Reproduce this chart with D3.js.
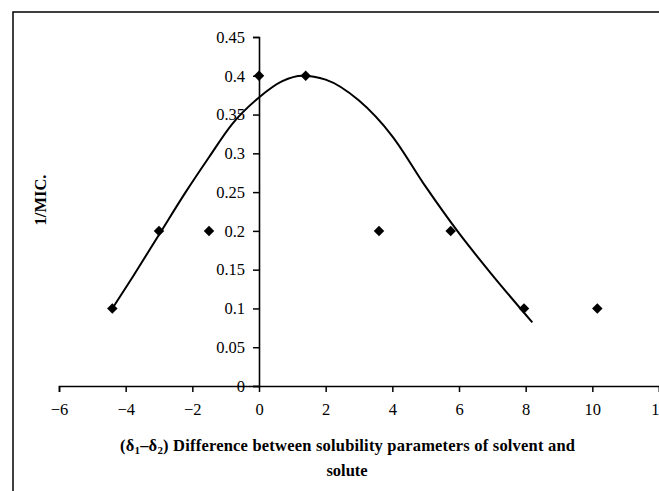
<!DOCTYPE html>
<html>
<head>
<meta charset="utf-8">
<script src="https://cdn.jsdelivr.net/npm/d3@7"></script>
<style>
  body { margin: 0; background: #fff; }
  svg { display: block; }
  text { font-family: "Liberation Serif", "Times New Roman", serif; fill: #000; }
</style>
</head>
<body>
<div id="chart"></div>
<script>
// measured points (difference of solubility parameters vs 1/MIC)
var pointX = [-4.4, -3.0, -1.5, 0, 1.4, 3.6, 5.75, 7.95, 10.15];
var pointY = [0.1, 0.2, 0.2, 0.4, 0.4, 0.2, 0.2, 0.1, 0.1];

// fitted trend curve
var curveX = [-4.4, -3.8, -3.0, -2.2, -1.5, -0.8, 0, 0.7, 1.3, 2.0, 3.0, 4.0, 5.0, 6.0, 7.0, 8.2];
var curveY = [0.1, 0.14, 0.195, 0.25, 0.295, 0.338, 0.372, 0.393, 0.4, 0.395, 0.368, 0.322, 0.257, 0.197, 0.143, 0.082];

var xTicks = [-6, -4, -2, 0, 2, 4, 6, 8, 10, 12];
var yTicks = [0, 0.05, 0.1, 0.15, 0.2, 0.25, 0.3, 0.35, 0.4, 0.45];

var width = 659, height = 491;

var svg = d3.select("#chart")
  .append("svg")
    .attr("width", width)
    .attr("height", height);

// outer frame
svg.append("rect")
  .attr("x", 13)
  .attr("y", 12)
  .attr("width", 700)
  .attr("height", 600)
  .attr("fill", "none")
  .attr("stroke", "#000")
  .attr("stroke-width", 1.5);

var x = d3.scaleLinear()
  .domain([-6, 12])
  .range([59, 659]);

var y = d3.scaleLinear()
  .domain([0, 0.45])
  .range([386, 37]);

// X axis (crosses at y = 0)
var gx = svg.append("g")
  .attr("transform", "translate(0," + y(0) + ")")
  .call(d3.axisBottom(x)
    .tickValues(xTicks)
    .tickSize(6)
    .tickPadding(11)
    .tickFormat(function(d) { return d < 0 ? "\u2212" + Math.abs(d) : d; }));

// Y axis (crosses at x = 0)
var gy = svg.append("g")
  .attr("transform", "translate(" + x(0) + ",0)")
  .call(d3.axisLeft(y)
    .tickValues(yTicks)
    .tickSize(6)
    .tickPadding(8)
    .tickFormat(function(d) { return d3.format("")(+d.toFixed(2)); }));

[gx, gy].forEach(function(g) {
  g.select(".domain").attr("stroke", "#000").attr("stroke-width", 1.6);
  g.selectAll(".tick line").attr("stroke", "#000").attr("stroke-width", 1.5);
  g.selectAll(".tick text")
    .attr("font-family", "Liberation Serif")
    .attr("font-size", 16.5)
    .attr("fill", "#000");
});

// trend curve
var line = d3.line()
  .x(function(d, i) { return x(curveX[i]); })
  .y(function(d, i) { return y(curveY[i]); })
  .curve(d3.curveMonotoneX);

svg.append("path")
  .attr("d", line(curveX))
  .attr("fill", "none")
  .attr("stroke", "#000")
  .attr("stroke-width", 2);

// diamond markers
var diamond = d3.symbol().type(d3.symbolSquare).size(55);
svg.selectAll(".pt")
  .data(pointX)
  .enter()
  .append("path")
    .attr("class", "pt")
    .attr("d", diamond)
    .attr("transform", function(d, i) {
      return "translate(" + x(d) + "," + y(pointY[i]) + ") rotate(45)";
    })
    .attr("fill", "#000");

// axis titles
svg.append("text")
  .attr("transform", "translate(46,200) rotate(-90)")
  .attr("text-anchor", "middle")
  .attr("font-size", 16.5)
  .attr("font-weight", "bold")
  .text("1/MIC.");

var t1 = svg.append("text")
  .attr("x", 120)
  .attr("y", 451)
  .attr("font-size", 16.5)
  .attr("font-weight", "bold")
  .attr("textLength", 455)
  .attr("lengthAdjust", "spacing");
t1.append("tspan").text("(\u03b4");
t1.append("tspan").attr("font-size", 11).attr("dy", 3).text("1");
t1.append("tspan").attr("dy", -3).text("\u2013\u03b4");
t1.append("tspan").attr("font-size", 11).attr("dy", 3).text("2");
t1.append("tspan").attr("dy", -3).text(") Difference between solubility parameters of solvent and");

svg.append("text")
  .attr("x", 347)
  .attr("y", 476)
  .attr("text-anchor", "middle")
  .attr("font-size", 16.5)
  .attr("font-weight", "bold")
  .text("solute");
</script>
</body>
</html>
